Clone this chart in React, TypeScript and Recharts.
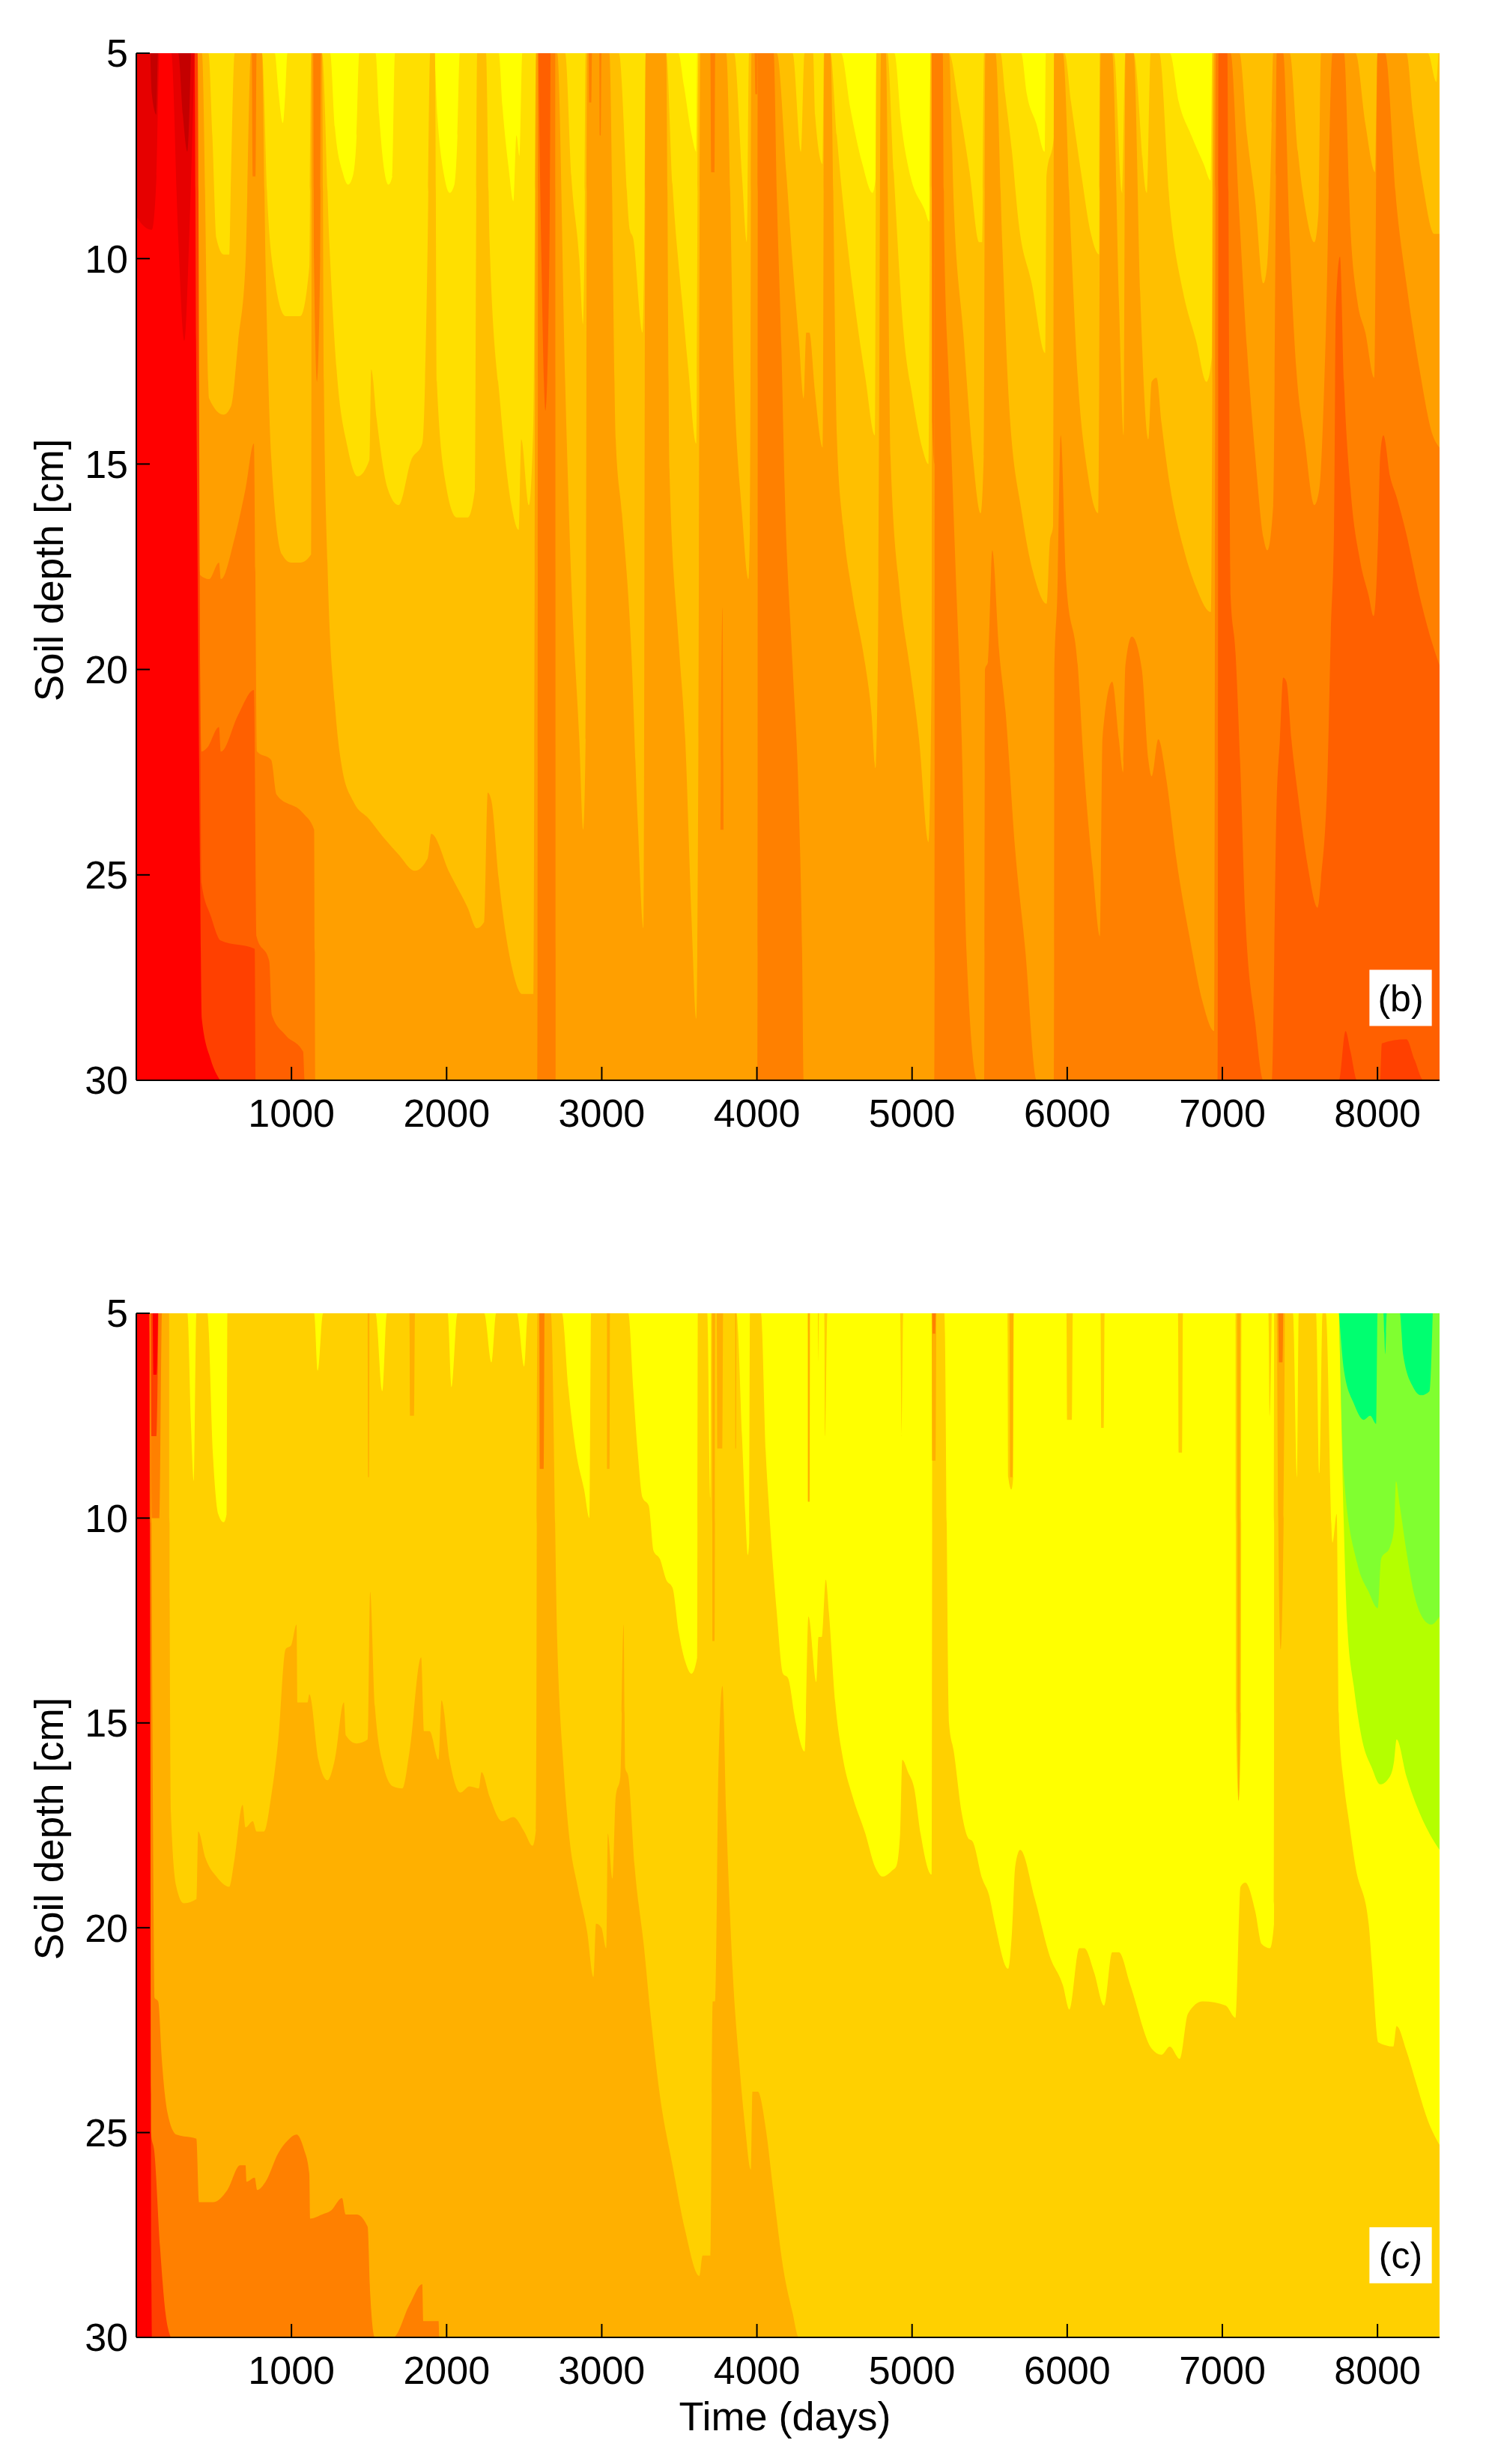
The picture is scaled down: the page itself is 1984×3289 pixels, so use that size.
import React from 'react';
import { ComposedChart, Area, XAxis, YAxis, ReferenceArea } from 'recharts';

type Edge = [number, number][]; // [time in days, soil depth in cm]

const timeTicks = [1000, 2000, 3000, 4000, 5000, 6000, 7000, 8000];
const depthTicks = [5, 10, 15, 20, 25, 30];
const fullColumn: Edge = [[0, 5], [8400, 5]];

// Panel (b): contour edges, each colour fills from its edge down to 30 cm
const bGold: Edge = [[0,5],[892,5],[915,5.9],[945,6.7],[960,6],[974,5],[1249,5],[1280,6.8],[1330,7.9],[1365,8.2],[1395,8],[1420,7],[1437,5],[1542,5],[1565,6.5],[1600,7.9],[1625,8.2],[1650,8],[1667,5],[1918,5],[1940,6.5],[1985,8],[2020,8.4],[2050,8.2],[2070,7],[2085,5],[2336,5],[2360,6.3],[2400,7.8],[2430,8.6],[2450,7],[2470,7.5],[2488,5],[3493,5],[3530,5.8],[3580,7],[3610,7.4],[3615,5],[4542,5],[4600,6.3],[4680,7.7],[4745,8.4],[4766,8],[4770,5],[4886,5],[4930,6.7],[4990,8],[5080,8.8],[5112,9.1],[5118,5],[5703,5],[5740,6],[5800,6.7],[5855,7.4],[5862,5],[6661,5],[6720,6.2],[6800,7],[6880,7.7],[6925,8.1],[6935,5],[8400,5]];
const bAmber: Edge = [[0,5],[465,5],[490,7],[516,9.5],[563,9.9],[599,9.9],[610,8],[634,5],[810,5],[845,8.6],[892,10.5],[962,11.4],[1056,11.4],[1115,10.2],[1127,5],[1197,5],[1244,9.6],[1291,12.7],[1362,14.6],[1427,15.3],[1502,14.9],[1514,12.7],[1549,13.9],[1620,15.6],[1690,16],[1772,14.9],[1843,14.5],[1878,9.6],[1894,5],[1925,5],[1937,13],[1995,15.5],[2066,16.3],[2136,16.3],[2183,15.6],[2188,11.3],[2197,5],[2254,5],[2277,9.6],[2347,13.6],[2418,16],[2465,16.6],[2481,14.4],[2531,16],[2559,14],[2577,5],[2764,5],[2804,8],[2855,10],[2880,11.6],[2890,9],[2896,5],[3110,5],[3181,9.3],[3202,9.5],[3263,11.8],[3273,10],[3283,5],[3415,5],[3456,8.2],[3517,11],[3558,12.7],[3609,14.5],[3623,5],[3853,5],[3904,8],[3935,9.6],[3949,5],[4230,5],[4285,7.4],[4307,5],[4362,5],[4375,6.5],[4424,7.7],[4432,5],[4474,5],[4515,7],[4576,9.4],[4637,11.3],[4699,12.9],[4760,14.3],[4770,5],[4841,5],[4882,7.9],[4943,11.7],[5004,13.4],[5065,14.6],[5106,15],[5120,5],[5238,5],[5299,6.2],[5371,7.9],[5432,9.6],[5452,9.6],[5464,5],[5570,5],[5600,6],[5644,7.4],[5686,9.1],[5771,10.6],[5860,12.3],[5866,8],[5915,7],[5918,5],[5983,5],[6025,6.2],[6089,7.9],[6153,9.4],[6206,9.9],[6210,5],[6301,5],[6354,8.4],[6375,5],[6428,5],[6513,8.4],[6538,5],[6593,5],[6661,8.7],[6746,10.8],[6831,12],[6898,13],[6932,12.4],[6936,5],[8324,5],[8380,5.7],[8395,5],[8400,5]];
const bOrangeLight: Edge = [[0,5],[423,5],[469,13.4],[563,13.8],[610,13.6],[657,12],[704,10.1],[739,5],[810,5],[833,10.1],[869,14.8],[939,17.2],[998,17.4],[1056,17.4],[1127,17.2],[1131,5],[1197,5],[1209,13],[1232,17.4],[1279,20.8],[1326,22.4],[1397,23.2],[1502,23.65],[1596,24.1],[1690,24.5],[1796,24.9],[1878,24.6],[1901,24],[2019,24.95],[2136,25.8],[2195,26.3],[2242,26.15],[2265,23],[2289,23.2],[2336,25.1],[2418,27.2],[2488,27.9],[2559,27.9],[2577,5],[2713,5],[2764,13],[2804,17.9],[2855,21.7],[2880,23.9],[2896,21.7],[2906,5],[3049,5],[3090,14.4],[3130,16.2],[3191,19.6],[3232,23.7],[3269,26.3],[3283,5],[3415,5],[3436,15.1],[3497,19.4],[3538,21.7],[3578,26],[3609,28.5],[3623,21.7],[3635,5],[3802,5],[3853,13],[3904,16.2],[3945,17.8],[3955,16.5],[3965,5],[4128,5],[4189,7.9],[4230,10.1],[4271,12],[4301,13.4],[4318,11.8],[4338,11.8],[4373,13.2],[4424,14.6],[4434,5],[4474,5],[4515,14.3],[4556,16.5],[4617,18.2],[4699,19.9],[4739,21.1],[4764,22.4],[4780,19.6],[4800,5],[4831,5],[4861,14.8],[4923,18.2],[4984,19.9],[5045,21.7],[5106,24.2],[5126,19.9],[5130,5],[5238,5],[5269,8.7],[5330,11.8],[5391,14.8],[5442,16.2],[5462,14.8],[5472,5],[5538,5],[5581,9.6],[5623,13.4],[5708,16.2],[5792,17.8],[5867,18.4],[5888,16.9],[5909,16.5],[5915,5],[5972,5],[6025,9.6],[6068,12.9],[6131,15.2],[6201,16.2],[6216,5],[6290,5],[6333,11],[6364,14.3],[6375,5],[6428,5],[6470,10.8],[6523,14.4],[6544,13],[6576,12.9],[6608,14],[6661,15.5],[6746,17],[6831,18],[6926,18.6],[6947,5],[7110,5],[7159,7],[7212,8.6],[7265,10.6],[7290,10.1],[7318,6.7],[7328,5],[7434,5],[7487,7.4],[7540,8.9],[7593,9.6],[7619,8.9],[7636,5],[7858,5],[7921,6.7],[7985,7.9],[8000,5],[8186,5],[8229,6.5],[8292,8.2],[8366,9.4],[8400,9.4]];
const bOrange: Edge = [[0,5],[380,5],[395,14],[411,17.7],[469,17.8],[533,17.4],[545,17.8],[634,16.8],[704,15.6],[758,14.5],[779,22],[869,22.2],[904,23.05],[1075,23.5],[1146,23.9],[1155,30],[2585,30],[2590,5],[2700,5],[2703,30],[4004,30],[4006,5],[4108,5],[4128,8.4],[4158,12.2],[4179,15.6],[4230,19.9],[4271,23.4],[4291,26.8],[4301,30],[5145,30],[5146,5],[5198,5],[5208,9.6],[5238,13],[5279,17.4],[5320,21.7],[5350,26.8],[5422,30],[5465,30],[5470,20],[5490,19.8],[5517,17.1],[5560,19.5],[5602,21],[5665,24.4],[5729,26.8],[5803,30],[5915,30],[5917,20],[5936,18.2],[5958,14.3],[5994,17.9],[6068,19.9],[6110,22.5],[6163,24.8],[6212,26.5],[6227,21.7],[6290,20.3],[6333,21.7],[6360,22.5],[6375,19.9],[6417,19.2],[6481,20],[6523,22.2],[6544,22.6],[6587,21.7],[6640,22.7],[6703,24.6],[6788,26.5],[6873,28.1],[6947,28.8],[6958,5],[7053,5],[7106,8.7],[7159,12.2],[7212,14.8],[7265,16.8],[7290,17.1],[7328,16],[7345,8],[7350,5],[7392,5],[7434,9.6],[7477,12.7],[7530,14.4],[7593,16],[7625,15.6],[7667,11.8],[7710,5],[7784,5],[7826,9.3],[7869,11],[7922,11.8],[7979,12.9],[8000,5],[8049,5],[8123,8.7],[8186,10.6],[8271,12.7],[8356,14.3],[8400,14.6]];
const bBurnt: Edge = [[0,5],[385,5],[395,12],[410,20],[420,22],[458,21.9],[533,21.4],[545,22],[657,21.1],[758,20.5],[775,26.5],[857,27.1],[873,28.4],[962,28.9],[1075,29.3],[1085,30],[6970,30],[6975,5],[7032,5],[7053,18.2],[7085,19.6],[7117,22.5],[7148,26],[7212,28.6],[7265,30],[7318,30],[7350,23.2],[7371,21.7],[7392,20.2],[7413,20.3],[7445,21.7],[7487,23.05],[7551,24.8],[7614,25.8],[7636,25.1],[7678,22.5],[7699,19.1],[7720,16.5],[7731,11.3],[7758,9.95],[7784,13],[7826,15.6],[7890,17.4],[7943,18.2],[7975,18.7],[8006,16.5],[8017,14.8],[8038,14.3],[8081,15.3],[8123,15.8],[8186,16.7],[8271,18.2],[8356,19.4],[8400,19.9]];
const bEmber: Edge = [[0,5],[395,5],[411,20],[420,25.2],[480,26],[545,26.6],[763,26.8],[770,30],[7752,30],[7794,28.8],[7826,29.3],[7869,30],[8017,30],[8028,29.1],[8186,29],[8239,29.5],[8297,30],[8400,30]];
const bRed: Edge = [[0,5],[375,5],[385,12],[394,17],[411,25],[422,28.5],[480,29.5],[540,30]];

// Panel (b): wet pulses that fill from the surface down to their edge
const bPulseOrange: Edge = [[745,5],[750,8],[770,8],[775,5],[1140,5],[1145,10],[1165,13],[1185,10],[1190,5],[2916,5],[2920,6.2],[2934,6.2],[2937,5],[2984,5],[2988,7],[2995,7],[2998,5],[3700,5],[3705,7.9],[3728,7.9],[3731,5],[3985,5],[3990,6],[4003,6],[4006,5],[5126,5],[5130,14],[5145,15],[5146,5]];
const bPulseBurnt: Edge = [[2591,5],[2611,10],[2637,13.7],[2662,10],[2670,5]];
const bPulseDarkRed: Edge = [[0,5],[5,9],[100,9.3],[130,8],[150,5],[225,5],[270,9.5],[310,12],[345,9],[375,5]];
const bPulseDeepRed: Edge = [[90,5],[100,6],[130,6.5],[140,5],[270,5],[300,6.5],[330,7.4],[352,5]];
const bIslandOrange: Edge = [[3765,23.9],[3778,18.5],[3785,23.9]];

// Panel (c): contour edges
const cGold: Edge = [[0,5],[329,5],[352,7.7],[371,9.1],[387,5],[458,5],[493,8.4],[528,9.9],[563,10.1],[582,9.9],[587,5],[1146,5],[1169,6.4],[1204,5],[1542,5],[1585,6.9],[1615,5],[2007,5],[2031,6.8],[2070,5],[2242,5],[2289,6.2],[2319,5],[2453,5],[2500,6.3],[2523,5],[2743,5],[2784,6.8],[2835,8.4],[2886,9.3],[2921,10],[2931,5],[3171,5],[3202,6.8],[3232,8.4],[3263,9.5],[3303,9.7],[3334,10.8],[3375,11],[3415,11.5],[3456,11.7],[3497,12.8],[3538,13.5],[3578,13.8],[3615,13.4],[3619,5],[3680,5],[3700,9.5],[3705,5],[3868,5],[3904,8],[3925,9.9],[3941,10.9],[3950,10.6],[3955,5],[4026,5],[4057,8.4],[4077,9.7],[4128,12.3],[4169,13.8],[4200,13.9],[4251,15],[4308,15.7],[4332,12.4],[4383,14],[4397,12.9],[4418,12.9],[4444,11.5],[4464,12.3],[4505,14.5],[4556,15.9],[4617,16.8],[4699,17.7],[4760,18.5],[4811,18.75],[4872,18.6],[4898,18.5],[4923,17.7],[4937,15.9],[4974,16.2],[5014,16.6],[5055,17.7],[5126,18.7],[5132,5],[5208,5],[5238,15],[5269,15.7],[5320,17.2],[5360,17.8],[5391,17.9],[5452,18.8],[5496,19.2],[5534,19.9],[5619,21],[5644,20.1],[5665,18.5],[5697,18.1],[5792,19.3],[5888,20.7],[5972,21.4],[6015,22],[6078,20.5],[6110,20.5],[6174,21.1],[6237,21.9],[6290,20.6],[6333,20.6],[6407,21.4],[6544,22.95],[6608,23.1],[6661,22.9],[6725,23.2],[6778,22.1],[6873,21.8],[7021,21.9],[7085,22.2],[7117,19],[7148,18.9],[7212,19.6],[7254,20.4],[7307,20.5],[7333,19.9],[7334,5],[7455,5],[7482,9],[7492,5],[7604,5],[7625,8.9],[7646,5],[7667,5],[7710,10.6],[7737,9.9],[7752,15],[7784,16.5],[7816,17.4],[7858,18.5],[7943,19.9],[7964,20.9],[8006,22.8],[8102,22.9],[8123,22.4],[8186,23],[8250,23.8],[8324,24.7],[8400,25.3]];
const cAmber: Edge = [[0,5],[211,5],[215,12],[223,17.2],[258,19],[305,19.4],[387,19.3],[399,17.65],[446,18.3],[516,18.75],[599,19],[634,18.3],[685,17],[704,17.55],[751,17.4],[775,17.65],[822,17.65],[869,16.8],[915,15.4],[962,13.2],[998,13.1],[1033,12.6],[1038,14.5],[1103,14.5],[1115,14.3],[1174,15.9],[1232,16.4],[1279,15.9],[1338,14.5],[1350,15.3],[1420,15.5],[1491,15.4],[1507,11.8],[1538,14.6],[1596,16.1],[1655,16.55],[1714,16.6],[1761,15.7],[1836,13.4],[1854,15.2],[1890,15.2],[1948,15.9],[1967,14.45],[2019,15.9],[2089,16.7],[2148,16.55],[2207,16.6],[2225,16.2],[2277,16.8],[2359,17.4],[2430,17.3],[2500,17.65],[2554,18],[2576,17.6],[2585,5],[2672,5],[2713,13],[2754,16.1],[2794,17.9],[2845,19],[2906,20.1],[2947,21.2],[2963,19.9],[2998,20],[3029,20.5],[3039,17.7],[3069,18.8],[3090,16.8],[3120,16.3],[3141,12.6],[3151,16.1],[3171,16.3],[3212,18.5],[3273,20.5],[3314,22.1],[3375,24.1],[3456,25.8],[3538,27.4],[3629,28.5],[3650,28],[3700,28],[3715,21.8],[3731,21.8],[3752,16.1],[3778,14.1],[3802,17.2],[3843,21],[3884,23.2],[3925,24.9],[3961,25.9],[3971,24],[4006,24],[4057,24.9],[4108,26.5],[4169,28.3],[4230,29.4],[4271,30],[8400,30]];
const cOrange: Edge = [[0,5],[92,5],[100,12],[112,20],[117,21.7],[141,21.8],[164,23.2],[200,24.5],[258,25.05],[387,25.15],[404,26.7],[493,26.7],[587,26.4],[669,25.8],[704,25.8],[711,26.2],[763,26.1],[779,26.4],[833,26.2],[915,25.5],[974,25.2],[1033,25.05],[1080,25.4],[1115,26],[1120,27.1],[1197,27],[1256,26.9],[1326,26.6],[1350,27],[1420,27],[1491,27.3],[1507,28.9],[1538,30],[1655,30],[1761,29.2],[1843,28.7],[1850,29.6],[1948,29.6],[1953,30],[8400,30]];
const cEmber: Edge = [[0,5],[85,5],[94,25],[117,25.5],[153,27.8],[188,29.4],[223,30]];
const cRed: Edge = [[0,5],[82,5],[90,15],[94,25],[100,30]];

// Panel (c): colours that fill from the surface down
const cLime: Edge = [[7752,5],[7805,12.6],[7847,14.1],[7900,15.4],[7964,16.1],[8017,16.5],[8081,16.3],[8108,15.9],[8123,15.4],[8186,16.3],[8250,17],[8335,17.7],[8400,18.1]];
const cLightGreen: Edge = [[7752,5],[7784,9],[7869,11.1],[7943,11.8],[8002,12.2],[8023,11],[8081,10.7],[8108,10.2],[8119,9.1],[8144,9.7],[8186,10.8],[8239,11.9],[8303,12.5],[8345,12.6],[8400,12.4]];
const cSpringGreen: Edge = [[7752,5],[7784,6.4],[7847,7.2],[7911,7.6],[7953,7.5],[7992,7.7],[8000,5],[8038,5],[8050,6],[8060,5],[8144,5],[8165,6],[8229,6.8],[8282,7],[8335,6.9],[8356,5]];
const cPulseGold: Edge = [[4393,5],[4395,6.2],[4400,5],[4434,5],[4440,8],[4454,5],[4923,5],[4933,8],[4943,5],[5615,5],[5620,9],[5640,9.3],[5652,9],[5656,5],[5995,5],[6000,7.6],[6030,7.6],[6036,5],[6215,5],[6220,7.8],[6236,7.8],[6241,5],[6714,5],[6720,8.4],[6740,8.4],[6746,5],[7085,5],[7088,15],[7105,16.9],[7120,15],[7123,5],[7297,5],[7305,7.5],[7318,5]];
const cPulseAmber: Edge = [[1491,5],[1494,9],[1500,9],[1503,5],[1760,5],[1765,7.5],[1790,7.5],[1796,5],[3033,5],[3036,8.8],[3050,8.8],[3053,5],[3711,5],[3714,13],[3728,13],[3731,5],[3741,5],[3745,8.3],[3778,8.3],[3782,5],[3860,5],[3862,8.3],[3866,8.3],[3868,5],[4328,5],[4330,9.6],[4340,9.6],[4342,5],[5126,5],[5130,8.6],[5152,8.6],[5157,5],[5628,5],[5633,9],[5648,9],[5654,5],[7095,5],[7098,15],[7105,16.9],[7114,15],[7117,5],[7350,5],[7360,10],[7376,13.2],[7395,10],[7403,5]];
const cPulseOrange: Edge = [[92,5],[100,10],[150,10],[165,5],[2597,5],[2601,8.8],[2627,8.8],[2631,5],[5130,5],[5133,5.5],[5150,5.5],[5153,5],[7360,5],[7365,6.2],[7388,6.2],[7392,5]];
const cPulseEmber: Edge = [[94,5],[98,8],[130,8],[142,5]];
const cPulseRed: Edge = [[106,5],[110,6.5],[130,6.5],[140,5]];

const fromBottom = 30;
const fromTop = 5;

const panelBLayers = [
  { points: fullColumn, fill: '#FFFF00', base: fromBottom },
  { points: bGold, fill: '#FFDF00', base: fromBottom },
  { points: bAmber, fill: '#FFBF00', base: fromBottom },
  { points: bOrangeLight, fill: '#FF9F00', base: fromBottom },
  { points: bOrange, fill: '#FF8000', base: fromBottom },
  { points: bBurnt, fill: '#FF6000', base: fromBottom },
  { points: bEmber, fill: '#FF4000', base: fromBottom },
  { points: bRed, fill: '#FF0000', base: fromBottom },
  { points: bPulseOrange, fill: '#FF8000', base: fromTop },
  { points: bPulseBurnt, fill: '#FF6000', base: fromTop },
  { points: bPulseDarkRed, fill: '#E60000', base: fromTop },
  { points: bPulseDeepRed, fill: '#C40000', base: fromTop },
  { points: bIslandOrange, fill: '#FF8000', base: 23.9 },
];

const panelCLayers = [
  { points: fullColumn, fill: '#FFFF00', base: fromBottom },
  { points: cGold, fill: '#FFD000', base: fromBottom },
  { points: cAmber, fill: '#FFB000', base: fromBottom },
  { points: cOrange, fill: '#FF8000', base: fromBottom },
  { points: cEmber, fill: '#FF4000', base: fromBottom },
  { points: cRed, fill: '#FF0000', base: fromBottom },
  { points: cLime, fill: '#B4FF00', base: fromTop },
  { points: cLightGreen, fill: '#80FF30', base: fromTop },
  { points: cSpringGreen, fill: '#00FF70', base: fromTop },
  { points: cPulseGold, fill: '#FFD000', base: fromTop },
  { points: cPulseAmber, fill: '#FFB000', base: fromTop },
  { points: cPulseOrange, fill: '#FF8000', base: fromTop },
  { points: cPulseEmber, fill: '#FF4000', base: fromTop },
  { points: cPulseRed, fill: '#FF0000', base: fromTop },
];

const font = 'Liberation Sans, Arial, sans-serif';
const tickText = { fontFamily: font, fontSize: 52, fill: '#000' };
const tickStroke = { stroke: '#000', strokeWidth: 2 };
const darkEdge = { stroke: '#000', strokeWidth: 2 };
const greyEdge = { stroke: '#999', strokeWidth: 3 };

function Panel({ layers, tag, top, height, plotTop, titleY, showTime }: any) {
  return (
    <div style={{ position: 'absolute', left: 0, top }}>
      <ComposedChart width={1984} height={height} margin={{ top: plotTop, right: 62, bottom: height - plotTop - (showTime ? 1367 : 1371) - 130, left: 0 }}>
        {layers.map((layer: any, i: number) => (
          <Area
            key={i}
            data={layer.points.map(([t, d]: number[]) => ({ t, d }))}
            dataKey="d"
            type="monotone"
            baseValue={layer.base}
            fill={layer.fill}
            fillOpacity={1}
            stroke="none"
            dot={false}
            activeDot={false}
            isAnimationActive={false}
          />
        ))}
        <ReferenceArea
          x1={7948}
          x2={8350}
          y1={27.31}
          y2={28.68}
          fill="#fff"
          fillOpacity={1}
          stroke="none"
          label={{ value: tag, position: 'center', fontFamily: font, fontSize: 50, fill: '#000' }}
        />
        <XAxis
          dataKey="t"
          type="number"
          domain={[0, 8400]}
          allowDataOverflow
          ticks={timeTicks}
          interval={0}
          height={130}
          tick={tickText}
          tickSize={-18}
          tickMargin={43}
          tickLine={tickStroke}
          axisLine={darkEdge}
        />
        <XAxis
          xAxisId="top"
          orientation="top"
          dataKey="t"
          type="number"
          domain={[0, 8400]}
          allowDataOverflow
          ticks={timeTicks}
          interval={0}
          height={0}
          tick={false}
          tickSize={-18}
          tickLine={tickStroke}
          axisLine={greyEdge}
        />
        <YAxis
          type="number"
          reversed
          domain={[5, 30]}
          allowDataOverflow
          ticks={depthTicks}
          interval={0}
          width={182}
          tick={tickText}
          tickSize={-18}
          tickMargin={29}
          tickLine={tickStroke}
          axisLine={darkEdge}
        />
        <YAxis
          yAxisId="right"
          orientation="right"
          type="number"
          reversed
          domain={[5, 30]}
          allowDataOverflow
          ticks={depthTicks}
          interval={0}
          width={0}
          tick={false}
          tickSize={-18}
          tickLine={tickStroke}
          axisLine={greyEdge}
        />
        <text
          x={70}
          y={titleY}
          transform={`rotate(-90 70 ${titleY})`}
          textAnchor="middle"
          dominantBaseline="middle"
          fontFamily={font}
          fontSize={53}
          fill="#000"
        >
          Soil depth [cm]
        </text>
        {showTime && (
          <text x={1048} y={1594} textAnchor="middle" fontFamily={font} fontSize={54} fill="#000">
            Time (days)
          </text>
        )}
      </ComposedChart>
    </div>
  );
}

export default function App() {
  return (
    <div style={{ position: 'absolute', left: 0, top: 0, width: 1984, height: 3289, background: '#fff' }}>
      <Panel layers={panelBLayers} tag="(b)" top={0} height={1572} plotTop={71} titleY={761} />
      <Panel layers={panelCLayers} tag="(c)" top={1650} height={1630} plotTop={103} titleY={791} showTime />
    </div>
  );
}
